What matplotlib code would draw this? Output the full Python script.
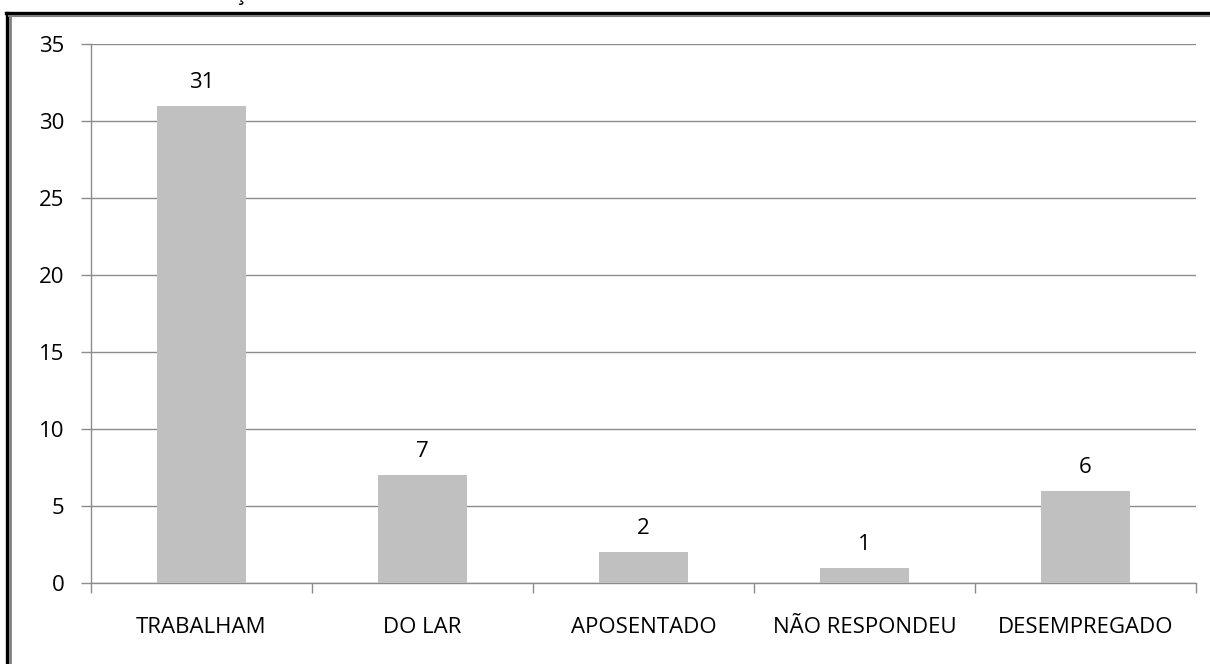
import matplotlib
matplotlib.use("Agg")
import matplotlib.pyplot as plt
from matplotlib.lines import Line2D

categories = ["TRABALHAM", "DO LAR", "APOSENTADO", "NÃO RESPONDEU", "DESEMPREGADO"]
values = [31, 7, 2, 1, 6]
yticks = [0, 5, 10, 15, 20, 25, 30, 35]

plt.rcParams['font.family'] = ['Open Sans', 'DejaVu Sans']

W, H = 1210, 664
fig = plt.figure(figsize=(W / 100, H / 100), dpi=100)
fig.patch.set_facecolor('white')

ax = fig.add_axes([91 / W, 1 - 583 / H, (1196 - 91) / W, (583 - 44) / H])

FS = 16
grid_c = '#8c8c8c'
x = [i + 0.5 for i in range(len(categories))]
bars = ax.bar(x, values, width=0.4, color='#c0c0c0', zorder=3)
for xi, v in zip(x, values):
    ax.annotate(str(v), (xi, v), xytext=(0, 13), textcoords='offset points',
                ha='center', va='baseline', fontsize=FS, color='black')

ax.set_xlim(0, len(categories))
ax.set_ylim(0, 35)
ax.set_yticks(yticks)
ax.set_yticklabels([str(t) for t in yticks], fontsize=FS)
ax.yaxis.grid(True, color=grid_c, linewidth=1.0, zorder=0)
ax.set_axisbelow(True)

ax.set_xticks(x)
ax.set_xticklabels(categories, fontsize=FS)
ax.set_xticks(range(len(categories) + 1), minor=True)
ax.tick_params(axis='x', which='major', length=0, pad=24.5)
ax.tick_params(axis='x', which='minor', length=7, width=1, color=grid_c, direction='out')
ax.tick_params(axis='y', length=7, width=1, color=grid_c, direction='out', pad=12)

for s in ['top', 'right']:
    ax.spines[s].set_visible(False)
for s in ['left', 'bottom']:
    ax.spines[s].set_color(grid_c)
    ax.spines[s].set_linewidth(1.0)

def fx(px):
    return px / W

def fy(py):
    return 1 - py / H

# frame border (double line: black outer, gray inner)
fig.add_artist(Line2D([fx(7), fx(7)], [fy(12.5), fy(H + 2)], color='black', linewidth=2.4))
fig.add_artist(Line2D([fx(10), fx(10)], [fy(15), fy(H + 2)], color='#808080', linewidth=2.0))
fig.add_artist(Line2D([fx(6), fx(W + 2)], [fy(13), fy(13)], color='black', linewidth=2.4))
fig.add_artist(Line2D([fx(9), fx(W + 2)], [fy(15.5), fy(15.5)], color='#808080', linewidth=1.5))

# remnant of the clipped title above the frame
fig.text(fx(240), fy(0), "ç", fontsize=FS, ha='center', va='baseline', color='black')

fig.savefig("out.png", dpi=100, facecolor='white')
